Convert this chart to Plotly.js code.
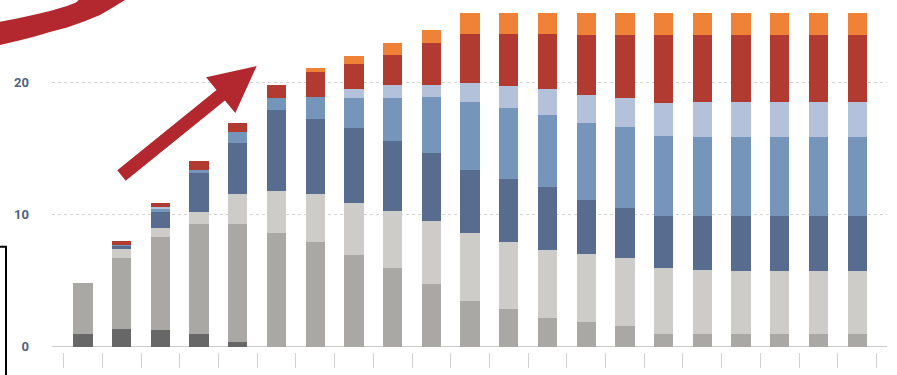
<!DOCTYPE html>
<html>
<head>
<meta charset="utf-8">
<script src="https://cdn.plot.ly/plotly-3.0.1.min.js"></script>
<style>
  html, body { margin: 0; padding: 0; background: #ffffff; }
  #chart { width: 897px; height: 375px; }
</style>
</head>
<body>
<div id="chart"></div>
<script>
// ---- Data (stacked segment heights, bottom to top) ----
const categories = ['1','2','3','4','5','6','7','8','9','10','11','12','13','14','15','16','17','18','19','20','21'];
const seriesNames = ['Segment A','Segment B','Segment C','Segment D','Segment E','Segment F','Segment G','Segment H'];
const segA = [0.96, 1.32, 1.27, 0.94, 0.38, 0, 0, 0, 0, 0, 0, 0, 0, 0, 0, 0, 0, 0, 0, 0, 0];
const segB = [3.89, 5.38, 7.02, 8.36, 8.92, 8.59, 7.95, 6.97, 5.98, 4.75, 3.46, 2.83, 2.20, 1.89, 1.57, 0.94, 0.94, 0.94, 0.94, 0.94, 0.94];
const segC = [0, 0.68, 0.68, 0.93, 2.25, 3.23, 3.60, 3.89, 4.28, 4.80, 5.13, 5.12, 5.13, 5.13, 5.13, 5.00, 4.87, 4.79, 4.79, 4.79, 4.79];
const segD = [0, 0.24, 1.26, 2.90, 3.90, 6.11, 5.72, 5.73, 5.35, 5.15, 4.80, 4.78, 4.77, 4.09, 3.78, 3.98, 4.11, 4.17, 4.17, 4.17, 4.17];
const segE = [0, 0.06, 0.22, 0.26, 0.82, 0.93, 1.62, 2.27, 3.21, 4.19, 5.15, 5.38, 5.48, 5.81, 6.14, 6.04, 5.99, 6.01, 6.01, 6.01, 6.01];
const segF = [0, 0, 0.15, 0, 0, 0, 0, 0.64, 1.01, 0.94, 1.41, 1.64, 1.97, 2.17, 2.22, 2.52, 2.63, 2.63, 2.63, 2.63, 2.63];
const segG = [0, 0.30, 0.26, 0.70, 0.70, 0.97, 1.94, 1.92, 2.25, 3.17, 3.72, 3.92, 4.12, 4.55, 4.80, 5.16, 5.10, 5.10, 5.10, 5.10, 5.10];
const segH = [0, 0, 0, 0, 0, 0, 0.26, 0.63, 0.95, 1.00, 2.00, 2.00, 2.00, 2.00, 2.00, 2.00, 2.00, 2.00, 2.00, 2.00, 2.00];
const yTickVals = [0, 10, 20];
const yTickText = ['0', '10', '20'];

// ---- Styles ----
const colors = ['#676767', '#a9a8a4', '#cdccc8', '#586c8f', '#7595bb', '#b4c1da', '#b13b30', '#ef8237'];
const allSeries = [segA, segB, segC, segD, segE, segF, segG, segH];

const traces = allSeries.map((vals, i) => ({
  type: 'bar',
  name: seriesNames[i],
  x: categories,
  y: vals,
  marker: { color: colors[i], line: { width: 0 } },
  hoverinfo: 'skip'
}));

// layout geometry (px)
const W = 897, H = 375;
const M = { l: 52, r: 10, t: 13, b: 23 };
const plotW = W - M.l - M.r, plotH = H - M.t - M.b;
function px(X, Y) { return [(X - M.l) / plotW, 1 - (Y - M.t) / plotH]; }
function pathFrom(points, close) {
  return points.map((p, i) => {
    const q = px(p[0], p[1]);
    return (i === 0 ? 'M' : 'L') + q[0].toFixed(5) + ',' + q[1].toFixed(5);
  }).join(' ') + (close ? ' Z' : '');
}

// decorative arrow (pixel outline)
const arrowPts = [[117.3,170.3],[216.5,90.0],[206.1,77.3],[256.7,66],[235.3,113.1],[224.9,100.4],[125.7,180.7]];
// decorative brush curve top-left
const curvePts = [[-2,21.9],[0,21.7],[17,18.5],[33,15],[50,11],[67,6],[76,2.5],[81,-2],[130,-2],[125,0],[112,8],[100,15],[84,21.5],[67,27.5],[50,32],[33,37],[16,41.3],[0,45],[-2,45.5]];
// bracket at left
const bracketPts = [[-2,246.7],[6,246.7],[6,378]];

const red = '#b2282e';
const layout = {
  width: W, height: H,
  margin: M,
  paper_bgcolor: '#ffffff',
  plot_bgcolor: '#ffffff',
  barmode: 'stack',
  bargap: 0.5,
  showlegend: false,
  xaxis: {
    type: 'category',
    range: [-0.8, 20.77],
    showticklabels: false,
    ticks: 'outside',
    tickson: 'boundaries',
    ticklen: 15,
    tickwidth: 1,
    tickcolor: '#d2d2d2',
    showgrid: false,
    showline: false,
    zeroline: false,
    fixedrange: true
  },
  yaxis: {
    range: [-0.40, 25.28],
    tickvals: yTickVals,
    ticktext: yTickText,
    ticks: '',
    ticklabelstandoff: 22,
    tickfont: { family: 'Roboto, sans-serif', size: 13, color: '#4e6282', weight: 700 },
    showgrid: true,
    gridcolor: '#d4d4d4',
    gridwidth: 1.5,
    griddash: 'dot',
    zeroline: true,
    zerolinecolor: '#cccccc',
    zerolinewidth: 1.5,
    showline: false,
    fixedrange: true
  },
  shapes: [
    { type: 'path', xref: 'paper', yref: 'paper', path: pathFrom(arrowPts, true), fillcolor: red, line: { width: 0 }, layer: 'above' },
    { type: 'path', xref: 'paper', yref: 'paper', path: pathFrom(curvePts, true), fillcolor: red, line: { width: 0 }, layer: 'above' },
    { type: 'path', xref: 'paper', yref: 'paper', path: pathFrom(bracketPts, false), line: { color: '#000000', width: 2 }, layer: 'above' }
  ]
};

Plotly.newPlot('chart', traces, layout, { displayModeBar: false, staticPlot: true });
</script>
</body>
</html>
